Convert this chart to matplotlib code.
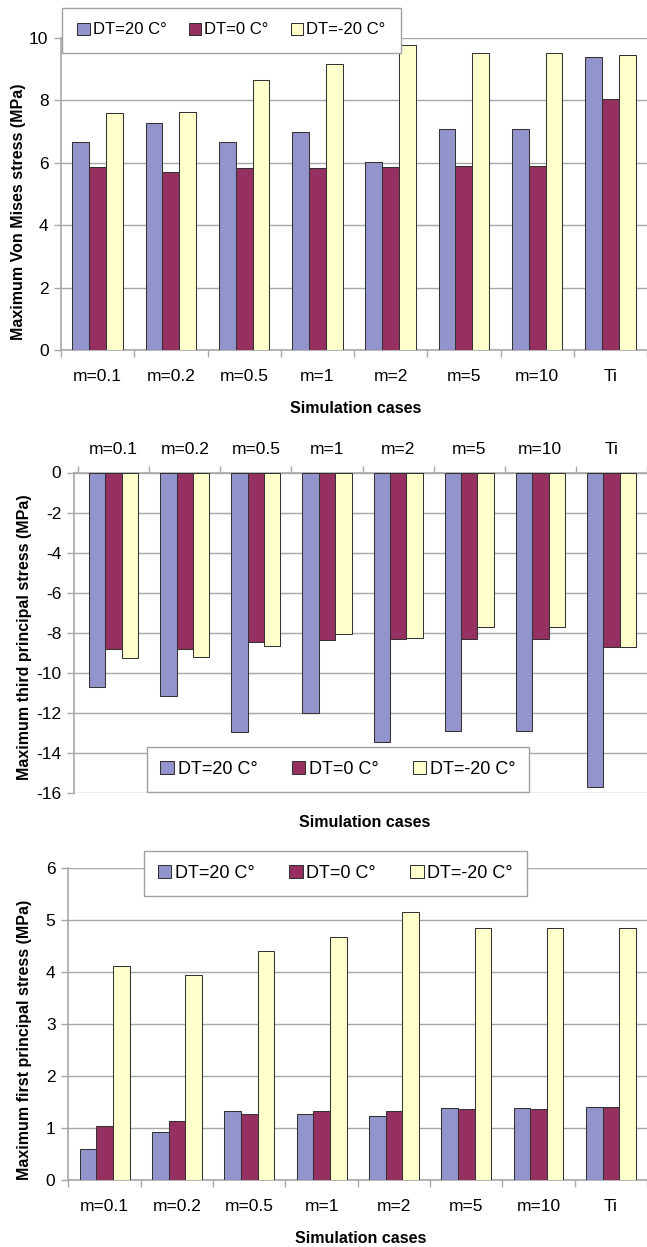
import matplotlib
matplotlib.use("Agg")
import matplotlib.pyplot as plt
import numpy as np

plt.rcParams['font.family'] = ['Liberation Sans', 'DejaVu Sans']

cases = ['m=0.1', 'm=0.2', 'm=0.5', 'm=1', 'm=2', 'm=5', 'm=10', 'Ti']
series_names = ['DT=20 C°', 'DT=0 C°', 'DT=-20 C°']

# Maximum Von Mises stress (MPa)
von_mises_dt20 = [6.67, 7.29, 6.68, 6.99, 6.03, 7.08, 7.08, 9.39]
von_mises_dt0 = [5.87, 5.71, 5.84, 5.82, 5.87, 5.89, 5.89, 8.03]
von_mises_dtm20 = [7.60, 7.63, 8.64, 9.18, 9.77, 9.52, 9.52, 9.47]

# Maximum third principal stress (MPa)
third_dt20 = [-10.71, -11.18, -12.96, -12.01, -13.43, -12.88, -12.88, -15.72]
third_dt0 = [-8.80, -8.80, -8.47, -8.35, -8.30, -8.30, -8.30, -8.69]
third_dtm20 = [-9.27, -9.23, -8.64, -8.07, -8.24, -7.69, -7.69, -8.69]

# Maximum first principal stress (MPa)
first_dt20 = [0.59, 0.93, 1.33, 1.27, 1.23, 1.39, 1.39, 1.40]
first_dt0 = [1.04, 1.14, 1.27, 1.33, 1.33, 1.36, 1.36, 1.40]
first_dtm20 = [4.12, 3.94, 4.40, 4.67, 5.15, 4.85, 4.85, 4.85]

colors = ['#9494CC', '#963060', '#FFFFCC']
grid_col = '#A8A8A8'
W, H = 647, 1247


def px_axes(left, top, right, bottom):
    # pixel box -> figure fraction
    return [left / W, 1 - bottom / H, (right - left) / W, (bottom - top) / H]


def draw_panel(ax, data, ylim, yticks, xlim, ylabel, top_ticks=False):
    x = np.arange(len(cases))
    w = 0.23
    for i, vals in enumerate(data):
        ax.bar(x + (i - 1) * w, vals, w, color=colors[i], edgecolor='#333333',
               linewidth=0.75, zorder=3, label=series_names[i])
    ax.set_xlim(*xlim)
    ax.set_ylim(*ylim)
    ax.set_yticks(yticks)
    ax.set_yticklabels([f'{t:g}' for t in yticks])
    ax.yaxis.grid(True, color=grid_col, linewidth=1.0, zorder=0)
    ax.set_axisbelow(True)
    ax.set_xticks(x)
    ax.set_xticklabels(cases)
    ax.set_xticks(np.arange(len(cases) + 1) - 0.5, minor=True)
    for s in ['top', 'right', 'bottom', 'left']:
        ax.spines[s].set_visible(False)
    ax.spines['left'].set_visible(True)
    ax.spines['left'].set_color(grid_col)
    ax.spines['left'].set_linewidth(1.2)
    if top_ticks:
        ax.xaxis.tick_top()
        ax.spines['top'].set_visible(True)
        ax.spines['top'].set_color(grid_col)
        ax.spines['top'].set_linewidth(1.2)
        ax.tick_params(axis='x', which='major', length=0, pad=11, labelsize=12.5)
    else:
        ax.spines['bottom'].set_visible(True)
        ax.spines['bottom'].set_color(grid_col)
        ax.spines['bottom'].set_linewidth(1.2)
        ax.tick_params(axis='x', which='major', length=0, pad=14, labelsize=12.5)
    ax.tick_params(axis='x', which='minor', length=5, color=grid_col, width=1.0)
    ax.tick_params(axis='y', length=5, color=grid_col, width=1.0, pad=4, labelsize=12.5)
    ax.set_ylabel(ylabel, fontsize=11.5, fontweight='bold', va='center')
    ax.set_xlabel('Simulation cases', fontsize=11.5, fontweight='bold', va='center')


def add_legend(ax, cx, cy, size, colsp, pad):
    ax.legend(loc='center', bbox_to_anchor=(cx / W, 1 - cy / H), bbox_transform=fig.transFigure,
              ncol=3, fontsize=size, frameon=True, fancybox=False, edgecolor='#A0A0A0',
              framealpha=1, handlelength=0.75, handleheight=0.75, handletextpad=0.2,
              columnspacing=colsp, borderpad=pad)


fig = plt.figure(figsize=(W / 100, H / 100), dpi=100)

# panel 1: Von Mises
ax1 = fig.add_axes(px_axes(61, 38, 647, 350))
draw_panel(ax1, [von_mises_dt20, von_mises_dt0, von_mises_dtm20], (0, 10), [0, 2, 4, 6, 8, 10],
           (-0.5, -0.5 + 586 / 74.0), 'Maximum Von Mises stress (MPa)')
ax1.yaxis.set_label_coords((19 - 61) / 586, 0.442)
ax1.xaxis.set_label_coords(0.503, -0.186)
add_legend(ax1, 231.5, 30, 12, 1.3, 0.9)

# panel 2: third principal
ax2 = fig.add_axes(px_axes(74, 472.5, 647, 793))
draw_panel(ax2, [third_dt20, third_dt0, third_dtm20], (-16, 0), list(range(-16, 1, 2)),
           ((74 - 114) / 71.7, (647 - 114) / 71.7), 'Maximum third principal stress (MPa)',
           top_ticks=True)
ax2.yaxis.set_label_coords((25 - 74) / 573, 0.486)
ax2.xaxis.set_label_coords(0.508, -0.0905)
add_legend(ax2, 338, 769.5, 13, 1.9, 0.75)

# panel 3: first principal
ax3 = fig.add_axes(px_axes(68, 868, 647, 1180))
draw_panel(ax3, [first_dt20, first_dt0, first_dtm20], (0, 6), [0, 1, 2, 3, 4, 5, 6],
           ((68 - 105) / 73.0, (647 - 105) / 73.0), 'Maximum first principal stress (MPa)')
ax3.yaxis.set_label_coords((25 - 68) / 579, 0.449)
ax3.xaxis.set_label_coords(0.506, -0.186)
add_legend(ax3, 335.5, 873.5, 13, 1.9, 0.75)

fig.savefig('out.png', dpi=100)
